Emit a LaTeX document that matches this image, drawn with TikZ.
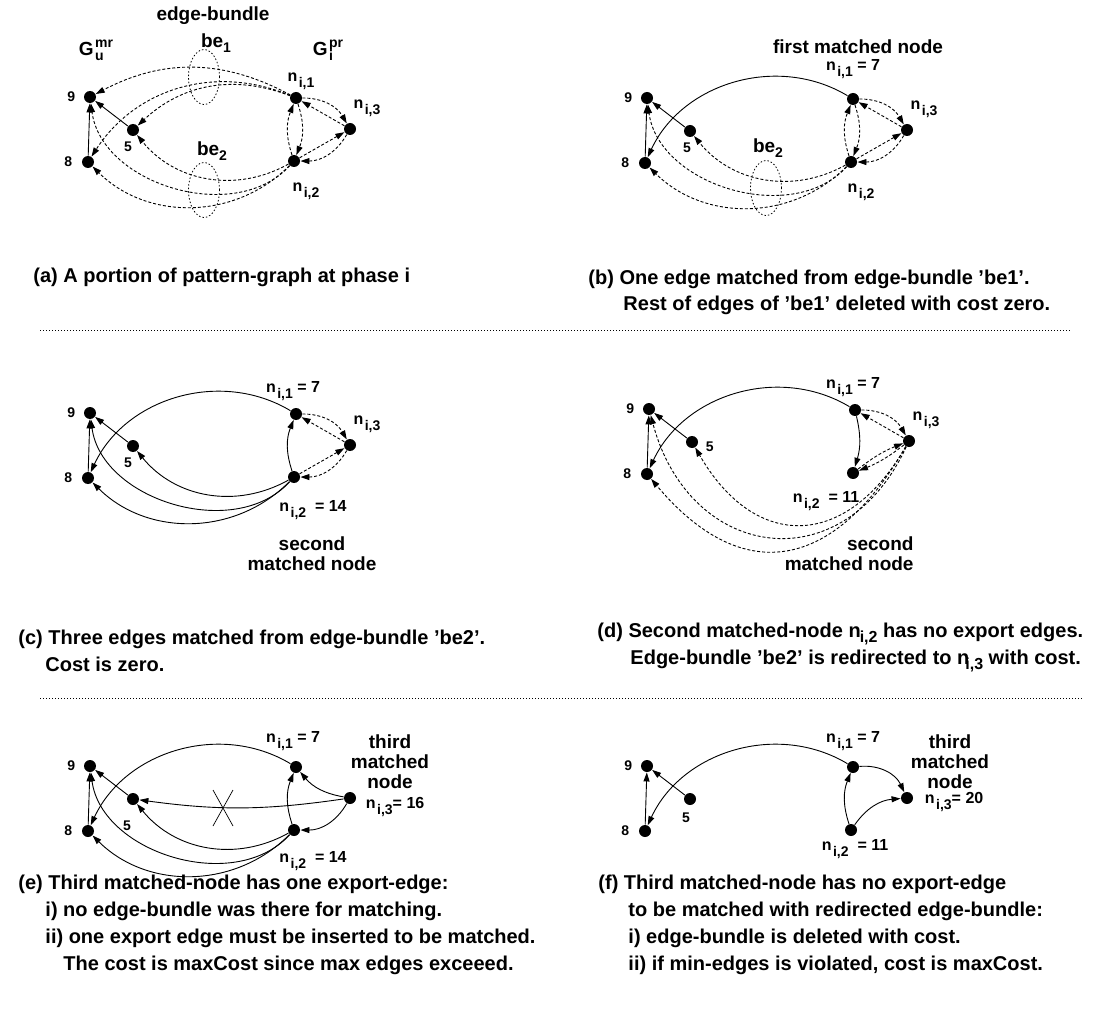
\documentclass[tikz,border=0pt]{standalone}
\usepackage{fontspec}
\setmainfont{Liberation Sans}
\usepackage{tikz}
\usetikzlibrary{positioning, arrows.meta, shapes.geometric}

% subscripted labels
\newcommand{\nsub}[1]{n\kern1.5pt\raisebox{-6pt}{\fontsize{14}{14}\selectfont #1}}
\newcommand{\ncap}[2]{n\kern#1\raisebox{-5pt}{\fontsize{16}{16}\selectfont #2}}
\newcommand{\gsub}[2]{G\kern1.5pt\raisebox{-5pt}{\rlap{\fontsize{14}{14}\selectfont #2}}\raisebox{8pt}{\fontsize{14}{14}\selectfont #1}}
\newcommand{\besub}[1]{be\raisebox{-5pt}{\fontsize{14}{14}\selectfont #1}}

% the six vertices of one phase, with the two fixed edges
\newcommand{\panelnodes}[1]{%
  \node[dot] (#1-9) at (90,-97) {};
  \node[dot] (#1-8) at (88,-162) {};
  \node[dot] (#1-5) at (133,-130) {};
  \node[dot] (#1-n1) at (296,-98) {};
  \node[dot] (#1-n2) at (294,-161) {};
  \node[dot] (#1-n3) at (350,-129) {};
  \node[num, left=8pt of #1-9] (#1-l9) {9};
  \node[num, left=9pt of #1-8] (#1-l8) {8};
  \draw[->] (#1-8) -- (#1-9);
  \draw[->] (#1-5) -- (#1-9);
}

\begin{document}
\begin{tikzpicture}[x=1pt,y=1pt,>={Triangle[length=9pt,width=6pt]},line width=0.9pt,
    dot/.style={circle,fill,inner sep=0pt,minimum size=12pt},
    num/.style={font=\fontsize{14}{14}\selectfont\bfseries,inner sep=0pt},
    nlbl/.style={font=\fontsize{16}{16}\selectfont\bfseries,inner sep=0pt},
    note/.style={font=\fontsize{19}{20}\selectfont\bfseries,inner sep=0pt,align=center},
    captxt/.style={font=\fontsize{20}{27}\selectfont\bfseries,inner sep=0pt,align=left,anchor=base west},
    dsh/.style={->,dash pattern=on 3pt off 2pt},
    bundle/.style={draw,ellipse,dash pattern=on 1.5pt off 2pt,line width=0.8pt,minimum width=31pt,minimum height=55pt,inner sep=0pt},
    sepline/.style={dash pattern=on 1pt off 2pt,line width=0.7pt}]
  \useasboundingbox (0,0) rectangle (1093,-1011);

  % (a) pattern-graph
  \begin{scope}
    \panelnodes{a}
    \node[num, below=5pt of a-5, xshift=-5pt] (a-l5) {5};
    \node[nlbl, above=1pt of a-n1, xshift=5pt] (a-ln1) {\nsub{i,1}};
    \node[nlbl, below=15pt of a-n2, xshift=12pt] (a-ln2) {\nsub{i,2}};
    \node[nlbl, above=5pt of a-n3, xshift=17pt] (a-ln3) {\nsub{i,3}};
    \node[note] (a-gu) at (96,-50) {\gsub{mr}{u}};
    \node[note] (a-gi) at (328,-50) {\gsub{pr}{i}};
    \node[note] (a-eb) at (213,-16) {edge-bundle};
    \node[note] (a-lbe1) at (216,-43) {\besub{1}};
    \node[note] (a-lbe2) at (212,-151) {\besub{2}};
    \node[bundle] (a-be1) at (204,-77) {};
    \node[bundle] (a-be2) at (204,-190) {};
    \draw[dsh] (a-n1) to[bend right=28] (a-9);
    \draw[dsh] (a-n1) to[bend right=32] (a-5);
    \draw[dsh] (a-n1) to[bend right=40] (a-8);
    \draw[dsh] (a-n2) to[bend left=65] (a-9);
    \draw[dsh] (a-n2) to[bend left=40] (a-5);
    \draw[dsh] (a-n2) to[bend left=45] (a-8);
    \draw[dsh] (a-n1) to[bend left=30] (a-n3);
    \draw[dsh] (a-n3) -- (a-n1);
    \draw[dsh] (a-n1) to[bend left=20] (a-n2);
    \draw[dsh] (a-n2) to[bend left=20] (a-n1);
    \draw[dsh] (a-n2) -- (a-n3);
    \draw[dsh] (a-n3) to[bend left=30] (a-n2);
  \end{scope}

  % (b) first matched node
  \begin{scope}[shift={(557,-1)}]
    \panelnodes{b}
    \node[num, below=5pt of b-5, xshift=-3pt] (b-l5) {5};
    \node[note] (b-first) at (301,-46) {first matched node};
    \node[nlbl, above=13pt of b-n1] (b-ln1) {\nsub{i,1} = 7};
    \node[nlbl, below=15pt of b-n2, xshift=10pt] (b-ln2) {\nsub{i,2}};
    \node[nlbl, above=5pt of b-n3, xshift=17pt] (b-ln3) {\nsub{i,3}};
    \node[note] (b-lbe2) at (211,-147) {\besub{2}};
    \node[bundle] (b-be2) at (209,-187) {};
    \draw[->] (b-n1) to[bend right=48] (b-8);
    \draw[dsh] (b-n2) to[bend left=65] (b-9);
    \draw[dsh] (b-n2) to[bend left=40] (b-5);
    \draw[dsh] (b-n2) to[bend left=45] (b-8);
    \draw[dsh] (b-n1) to[bend left=30] (b-n3);
    \draw[dsh] (b-n3) -- (b-n1);
    \draw[dsh] (b-n1) to[bend left=20] (b-n2);
    \draw[dsh] (b-n2) to[bend left=20] (b-n1);
    \draw[dsh] (b-n2) -- (b-n3);
    \draw[dsh] (b-n3) to[bend left=30] (b-n2);
  \end{scope}

  % (c) second matched node
  \begin{scope}[shift={(0,-316)}]
    \panelnodes{c}
    \node[num, below=5pt of c-5, xshift=-5pt] (c-l5) {5};
    \node[nlbl, above=6pt of c-n1, xshift=-3pt] (c-ln1) {\nsub{i,1} = 7};
    \node[nlbl, below=17pt of c-n2, xshift=19pt] (c-ln2) {\nsub{i,2}~~= 14};
    \node[nlbl, above=5pt of c-n3, xshift=17pt] (c-ln3) {\nsub{i,3}};
    \node[note] (c-second) at (312,-238) {second\\matched node};
    \draw[->] (c-n1) to[bend right=48] (c-8);
    \draw[->] (c-n2) to[bend left=65] (c-9);
    \draw[->] (c-n2) to[bend left=40] (c-5);
    \draw[->] (c-n2) to[bend left=45] (c-8);
    \draw[->] (c-n2) to[bend left=20] (c-n1);
    \draw[dsh] (c-n1) to[bend left=30] (c-n3);
    \draw[dsh] (c-n3) -- (c-n1);
    \draw[dsh] (c-n2) -- (c-n3);
    \draw[dsh] (c-n3) to[bend left=30] (c-n2);
  \end{scope}

  % (d) bundle redirected to n_{i,3}
  \begin{scope}[shift={(559,-312)}]
    \panelnodes{d}
    \node[num, right=7pt of d-5, yshift=-5pt] (d-l5) {5};
    \node[nlbl, above=6pt of d-n1, xshift=-2pt] (d-ln1) {\nsub{i,1} = 7};
    \node[nlbl, below=12pt of d-n2, xshift=-27pt] (d-ln2) {\nsub{i,2}~~= 11};
    \node[nlbl, above=5pt of d-n3, xshift=17pt] (d-ln3) {\nsub{i,3}};
    \node[note, align=right, anchor=east] (d-second) at (355,-242) {second\\matched node};
    \draw[->] (d-n1) to[bend right=48] (d-8);
    \draw[->] (d-n1) to[bend left=15] (d-n2);
    \draw[dsh] (d-n1) to[bend left=30] (d-n3);
    \draw[dsh] (d-n3) -- (d-n1);
    \draw[dsh] (d-n2) to[bend left=8] (d-n3);
    \draw[dsh] (d-n3) to[bend left=8] (d-n2);
    \draw[dsh] (d-n3) to[out=245,in=-75,looseness=1.5] (d-9);
    \draw[dsh] (d-n3) to[out=240,in=-60,looseness=1.45] (d-5);
    \draw[dsh] (d-n3) to[out=240,in=-50,looseness=1.42] (d-8);
  \end{scope}

  % (e) third matched node, one export edge
  \begin{scope}[shift={(0,-669)}]
    \panelnodes{e}
    \node[num, below=15pt of e-5, xshift=-6pt] (e-l5) {5};
    \node[nlbl, above=9pt of e-n1, xshift=-3pt] (e-ln1) {\nsub{i,1} = 7};
    \node[nlbl, below=15pt of e-n2, xshift=19pt] (e-ln2) {\nsub{i,2}~~= 14};
    \node[nlbl, right=9pt of e-n3, yshift=-9pt] (e-ln3) {\nsub{i,3}= 16};
    \node[note] (e-third) at (390,-93) {third\\matched\\node};
    \draw[->] (e-n1) to[bend right=48] (e-8);
    \draw[->] (e-n2) to[bend left=65] (e-9);
    \draw[->] (e-n2) to[bend left=40] (e-5);
    \draw[->] (e-n2) to[bend left=45] (e-8);
    \draw[->] (e-n2) to[bend left=20] (e-n1);
    \draw[->] (e-n3) to[bend left=20] (e-n1);
    \draw[->] (e-n3) to[bend left=30] (e-n2);
    \draw[->] (e-n3) to[bend left=8] (e-5);
    % crossed out edge
    \draw[line width=0.7pt] (213,-121) -- (233,-157) (213,-157) -- (233,-121);
  \end{scope}

  % (f) third matched node, no export edge
  \begin{scope}[shift={(557,-669)}]
    \panelnodes{f}
    \node[num, below=7pt of f-5, xshift=-4pt] (f-l5) {5};
    \node[nlbl, above=9pt of f-n1] (f-ln1) {\nsub{i,1} = 7};
    \node[nlbl, below=3pt of f-n2, xshift=4pt] (f-ln2) {\nsub{i,2}~~= 11};
    \node[nlbl, right=11pt of f-n3, yshift=-4pt] (f-ln3) {\nsub{i,3}= 20};
    \node[note] (f-third) at (393,-93) {third\\matched\\node};
    \draw[->] (f-n1) to[bend right=48] (f-8);
    \draw[->] (f-n1) to[bend left=35] (f-n3);
    \draw[->] (f-n2) to[bend left=20] (f-n1);
    \draw[->] (f-n2) to[bend left=25] (f-n3);
  \end{scope}

  % captions (base is the last line)
  \node[captxt] (cap-a) at (33,-283) {(a) A portion of pattern-graph at phase i};
  \node[captxt] (cap-b) at (588,-311) {(b) One edge matched from edge-bundle 'be1'.\\
    \hspace*{35pt}Rest of edges of 'be1' deleted with cost zero.};
  \node[captxt] (cap-c) at (18,-671) {(c) Three edges matched from edge-bundle 'be2'.\\
    \hspace*{27pt}Cost is zero.};
  \node[captxt] (cap-d) at (597,-664) {(d) Second matched-node \ncap{-1pt}{i,2} has no export edges.\\
    \hspace*{33pt}Edge-bundle 'be2' is redirected to \ncap{-4pt}{i,3} with cost.};
  \node[captxt] (cap-e) at (18,-970) {(e) Third matched-node has one export-edge:\\
    \hspace*{27pt}i) no edge-bundle was there for matching.\\
    \hspace*{27pt}ii) one export edge must be inserted to be matched.\\
    \hspace*{45pt}The cost is maxCost since max edges exceeed.};
  \node[captxt] (cap-f) at (598,-970) {(f) Third matched-node has no export-edge\\
    \hspace*{30pt}to be matched with redirected edge-bundle:\\
    \hspace*{30pt}i) edge-bundle is deleted with cost.\\
    \hspace*{30pt}ii) if min-edges is violated, cost is maxCost.};

  % separators
  \draw[sepline] (40,-330) -- (1070,-330);
  \draw[sepline] (40,-698) -- (1082,-698);
\end{tikzpicture}
\end{document}
